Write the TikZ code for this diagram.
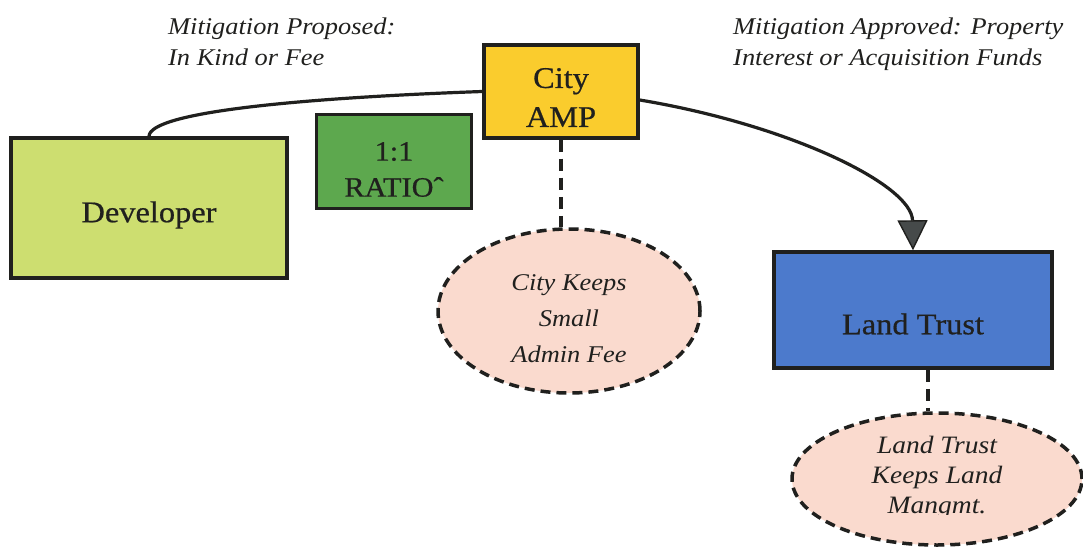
\documentclass[tikz,border=0pt]{standalone}
\usepackage{fontspec}
\setmainfont{Liberation Serif}[FakeStretch=1.1]
\newfontfamily\boxfont{Liberation Serif}[FakeStretch=1.08, FakeBold=0.6]
\usetikzlibrary{shapes.geometric,arrows.meta}

\definecolor{edge}{RGB}{32,32,30}
\definecolor{devfill}{RGB}{205,222,112}
\definecolor{ratiofill}{RGB}{93,168,78}
\definecolor{ampfill}{RGB}{250,204,45}
\definecolor{trustfill}{RGB}{76,122,204}
\definecolor{notefill}{RGB}{250,218,206}
\definecolor{tipgray}{RGB}{70,74,74}

\tikzset{
  stagebox/.style={draw=edge, line width=3.5pt, inner sep=0pt},
  stagetext/.style={inner sep=0pt, align=center, text=edge,
    font=\boxfont\fontsize{30}{39}\selectfont},
  notebubble/.style={ellipse, draw=edge, fill=notefill, line width=3.5pt,
    dash pattern=on 10pt off 6pt, inner sep=0pt},
  notetext/.style={inner sep=0pt, align=center, text=edge},
  linkdash/.style={draw=edge, line width=3.5pt, dash pattern=on 12pt off 7pt},
  flow/.style={draw=edge, line width=3.2pt},
  caption/.style={anchor=north west, inner sep=0pt, align=left, text=edge,
    font=\fontsize{24}{31}\selectfont\itshape}
}

\begin{document}
\begin{tikzpicture}[x=1pt, y=-1pt]
  \fill[white] (0,0) rectangle (1083,548);
  \useasboundingbox (0,0) rectangle (1083,548);

  % stages
  \node[stagebox, fill=devfill, minimum width=276pt, minimum height=140pt]
    (dev) at (149,208) {};
  \node[stagebox, fill=ratiofill, minimum width=155pt, minimum height=94pt]
    (ratio) at (394,161.5) {};
  \node[stagebox, fill=ampfill, minimum width=154pt, minimum height=93pt]
    (amp) at (561,91.5) {};
  \node[stagebox, fill=trustfill, minimum width=278pt, minimum height=116pt]
    (lt) at (913,310) {};

  \node[stagetext] (devtext) at ([yshift=-7pt]dev.center) {Developer};
  \node[stagetext, font=\boxfont\fontsize{28}{36}\selectfont]
    (ratiotext) at ([yshift=-8pt]ratio.center) {1:1\\RATIOˆ};
  \node[stagetext] (amptext) at ([yshift=-6pt]amp.center) {City\\AMP};
  \node[stagetext] (lttext) at ([yshift=-14pt]lt.center) {Land Trust};

  % notes
  \node[notebubble, minimum width=262pt, minimum height=164pt]
    (fee) at (569,311) {};
  \node[notetext, font=\fontsize{24}{36}\selectfont\itshape]
    (feetext) at ([yshift=-8pt]fee.center) {City Keeps\\Small\\Admin Fee};
  \node[notebubble, minimum width=290pt, minimum height=132pt]
    (mgmt) at (937,479) {};
  \begin{scope}
    \clip (0,0) rectangle (1083,514);
    \node[notetext, font=\fontsize{25}{30}\selectfont\itshape, anchor=north]
      (mgmttext) at (937,436) {Land Trust\\Keeps Land\\Mangmt.};
  \end{scope}

  % captions
  \node[caption] (proposed) at (168,18)
    {Mitigation Proposed:\\In Kind or Fee};
  \node[caption] (approved) at (733,18)
    {Mitigation Approved: Property\\Interest or Acquisition Funds};

  % connectors
  \draw[flow] (dev.north) .. controls (150,112) and (300,98) .. (amp.west);
  \draw[flow, -{Triangle[length=30pt, width=30pt, fill=tipgray, line width=1.4pt]}]
    ([yshift=-8.5pt]amp.east) .. controls (790,125) and (912,185) .. (lt.north);
  \draw[linkdash] (amp.south) -- (amp.south |- fee.north);
  \draw[linkdash] ([xshift=15pt]lt.south) -- ([xshift=15pt]lt.south |- mgmt.north);
\end{tikzpicture}
\end{document}
